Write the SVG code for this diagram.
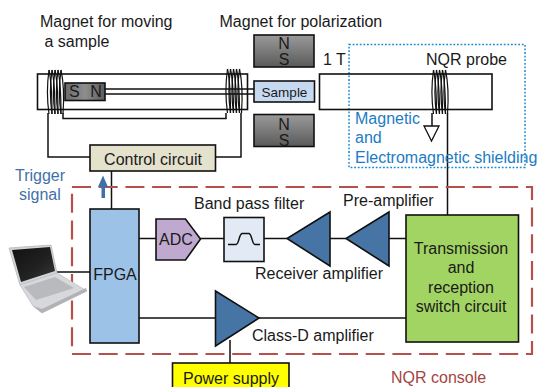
<svg xmlns="http://www.w3.org/2000/svg" width="539" height="387" viewBox="0 0 539 387">
<style>
text{font-family:"Liberation Sans",Arial,sans-serif;font-size:16px;fill:#1a1a1a}
.m{text-anchor:middle}
.w{fill:none;stroke:#111;stroke-width:1.5}
.b{stroke:#111;stroke-width:1.6}
.tube{fill:none;stroke:#111;stroke-width:1.6}
.amp{fill:#4674a5;stroke:#111;stroke-width:1.6;stroke-linejoin:miter}
.coil{fill:none;stroke:#111;stroke-width:1.2}
.mag{fill:url(#g);stroke:#111;stroke-width:1.6}
</style>
<defs>
<linearGradient id="g" x1="0" y1="0" x2="0" y2="1"><stop offset="0" stop-color="#9a9a9a"/><stop offset="1" stop-color="#5a5a5a"/></linearGradient>
<linearGradient id="g2" x1="0" y1="0" x2="1" y2="0"><stop offset="0" stop-color="#6a6a6a"/><stop offset="0.5" stop-color="#8e8e8e"/><stop offset="1" stop-color="#5c5c5c"/></linearGradient>
<linearGradient id="scr" x1="0" y1="0" x2="1" y2="1"><stop offset="0" stop-color="#111"/><stop offset="0.6" stop-color="#222"/><stop offset="1" stop-color="#3a3a3a"/></linearGradient>
<g id="coilshape">
<path class="coil" d="M1 0C-1 14-1 30 1 44M4 0C2 14 2 30 4 44M7 0C5 14 5 30 7 44M10 0C8 14 8 30 10 44M13 0C11 14 11 30 13 44"/>
<path class="coil" d="M1 0C4 14 4 30 4 44M4 0C7 14 7 30 7 44M7 0C10 14 10 30 10 44M10 0C13 14 13 30 13 44M13 0C16 14 16 30 15 44"/>
</g>
</defs>

<g id="connectors">
<path class="w" d="M48 113V157H90M241 113V157H215M63 113V118.500H226V113"/>
<path class="w" d="M105 89H254M105 94H254"/>
<path class="w" d="M111.500 171V209"/>
<path class="w" d="M447.500 113V215M432 113V126"/>
<path class="w" d="M139 238.500H156M200 238.500H224M264 238.500H287M330 238.500H346M389 238.500H406"/>
<path class="w" d="M139 318H215M259 318H406M230 340V363M57 272H90"/>
</g>

<g id="console-frame"><rect x="72" y="187" width="460" height="167" fill="none" stroke="#b5504c" stroke-width="2.200" stroke-dasharray="19 7.700"/><text x="391" y="383" style="fill:#a5443f">NQR console</text></g>
<g id="trigger-arrow"><path d="M103 175.500L108 187H105V198H101.500V187H98Z" fill="#3f71a8"/></g>
<g id="shield"><rect x="349" y="44.500" width="176" height="123" fill="none" stroke="#1b8ad3" stroke-width="1.500" stroke-dasharray="1.800 1.800"/></g>

<g id="tube-left"><rect class="tube" x="37.500" y="74" width="210" height="35.500"/></g>
<g id="tube-right"><rect class="tube" x="319.500" y="74" width="172.500" height="35.500"/></g>
<g id="coil-left"><use href="#coilshape" x="48" y="70"/></g>
<g id="coil-right"><use href="#coilshape" x="226.500" y="69"/></g>
<g id="coil-probe"><use href="#coilshape" x="432.500" y="70"/></g>
<g id="ground"><path d="M424 126H439L431.500 141Z" fill="#fff" stroke="#111" stroke-width="1.300"/></g>

<g id="moving-magnet"><rect x="65" y="83" width="40" height="17.500" fill="url(#g2)" stroke="#111" stroke-width="1.600"/><text x="69" y="97">S</text><text x="96" y="97" class="m">N</text></g>
<g id="magnet-top"><rect class="mag" x="254" y="35" width="60" height="32"/><text x="284" y="49" class="m">N</text><text x="284" y="65" class="m">S</text></g>
<g id="magnet-bottom"><rect class="mag" x="254" y="114.500" width="60" height="32"/><text x="284" y="130" class="m">N</text><text x="284" y="145.500" class="m">S</text></g>
<g id="sample"><rect x="254" y="81" width="60.500" height="21" fill="#c6d9f0" stroke="#111" stroke-width="1.600"/><text x="284.500" y="97" class="m" style="font-size:13.500px">Sample</text></g>
<g id="control"><rect class="b" x="90" y="145" width="125.500" height="26" fill="#e4e1cd"/><text x="153" y="165" class="m">Control circuit</text></g>
<g id="fpga"><rect class="b" x="90" y="209" width="49" height="134" fill="#9cc2e8"/><text x="115" y="280" class="m">FPGA</text></g>
<g id="adc"><path class="b" d="M156 219H185.500L200.500 239L185.500 260H156Z" fill="#bfa9cf"/><text x="176" y="245" class="m">ADC</text></g>
<g id="filter"><rect class="b" x="224" y="217.500" width="40" height="44" fill="#e1eaf5"/><path class="w" d="M228 244.500H236C239 244.500 239 234 242 233.500H249C252 234 252 244.500 255 244.500H260"/></g>
<g id="receiver-amp"><path class="amp" d="M330 212V266L287 238.500Z"/></g>
<g id="pre-amp"><path class="amp" d="M389 212V266L346 238.500Z"/></g>
<g id="class-d"><path class="amp" d="M215.500 291V346L259 318Z"/></g>
<g id="switch"><rect class="b" x="406" y="215" width="112.500" height="127" fill="#a2d464"/><text x="461" y="254" class="m">Transmission</text><text x="461" y="273" class="m">and</text><text x="461" y="293" class="m">reception</text><text x="461" y="312" class="m">switch circuit</text></g>
<g id="power"><rect class="b" x="172.500" y="363" width="116.500" height="26" fill="#ffff00"/><text x="231" y="384" class="m">Power supply</text></g>

<g id="laptop">
<path d="M9 248L51 245L57 273L20 285Z" fill="#d2d4d7" stroke="#b4b6b9" stroke-width="0.800"/>
<path d="M12 250L50 247L55 271L21 282Z" fill="url(#scr)"/>
<path d="M20 285L57 273L87 291L42 313L33 306Z" fill="#d6d8db" stroke="#c0c2c5" stroke-width="0.800"/>
<path d="M24 287L55 277L74 288L36 300Z" fill="#b8babe"/>
<path d="M33 306L42 313L87 291L86 288L42 309Z" fill="#b0b2b5"/>
</g>

<g id="labels">
<text x="40" y="27">Magnet for moving</text>
<text x="44.500" y="47">a sample</text>
<text x="219.500" y="27">Magnet for polarization</text>
<text x="323" y="65">1 T</text>
<text x="426" y="65">NQR probe</text>
<text x="355" y="124" style="fill:#1b7cc4">Magnetic</text>
<text x="355" y="143" style="fill:#1b7cc4">and</text>
<text x="355" y="163" style="fill:#1b7cc4">Electromagnetic shielding</text>
<text x="15" y="181" style="fill:#3f71a8">Trigger</text>
<text x="19" y="200" style="fill:#3f71a8">signal</text>
<text x="194" y="209">Band pass filter</text>
<text x="343" y="206">Pre-amplifier</text>
<text x="255" y="279">Receiver amplifier</text>
<text x="252" y="341">Class-D amplifier</text>
</g>
</svg>
